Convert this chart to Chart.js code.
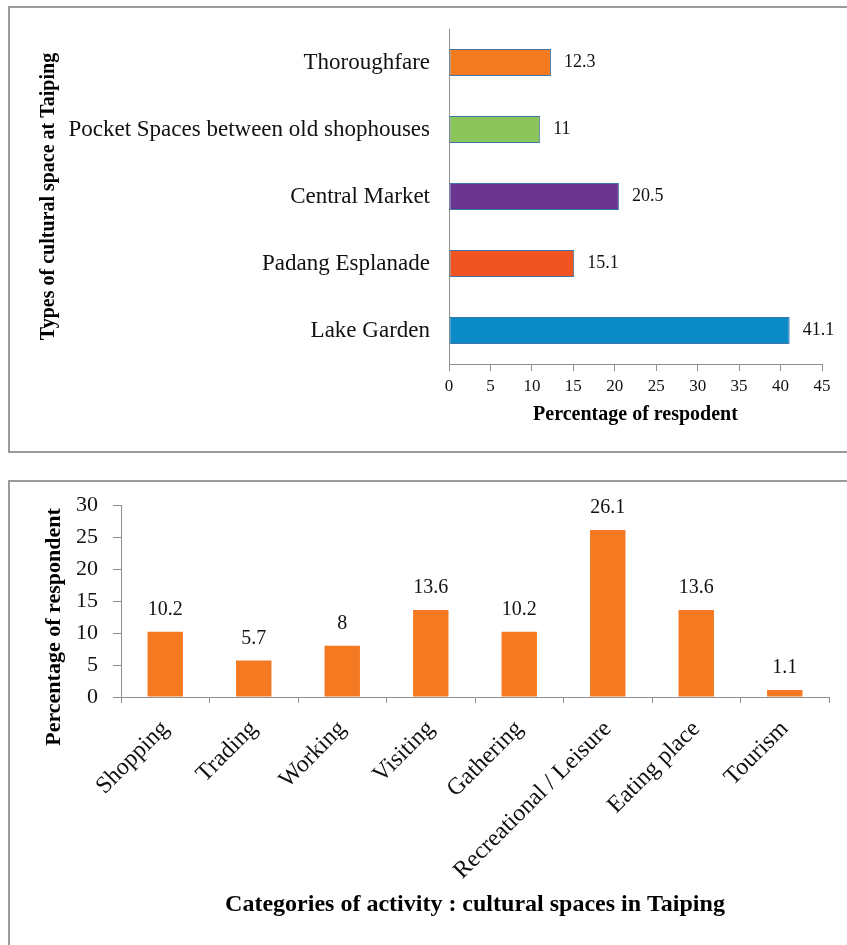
<!DOCTYPE html>
<html>
<head>
<meta charset="utf-8">
<script src="https://cdn.jsdelivr.net/npm/chart.js@4.4.0/dist/chart.umd.min.js"></script>
<style>
    body { margin: 0; background: #fff; width: 847px; height: 945px; overflow: hidden; position: relative; }
    .box { position: absolute; left: 8px; border: 2px solid #9b9b9b; }
    #box1 { top: 6px; width: 880px; height: 443px; }
    #box2 { top: 480px; width: 880px; height: 500px; }
    canvas { position: absolute; left: 0; }
    #chartTop { top: 0; }
    #chartBottom { top: 470px; }
</style>
</head>
<body>
<div class="box" id="box1"></div>
<div class="box" id="box2"></div>
<canvas id="chartTop" width="847" height="460"></canvas>
<canvas id="chartBottom" width="847" height="475"></canvas>
<script>
// Types of cultural space at Taiping
const spaceLabels = ['Thoroughfare', 'Pocket Spaces between old shophouses', 'Central Market', 'Padang Esplanade', 'Lake Garden'];
const spaceValues = [12.3, 11, 20.5, 15.1, 41.1];
const spaceColors = ['#F47A20', '#8CC55A', '#6B3590', '#F05423', '#0A8BC8'];
const spaceTicks = [0, 5, 10, 15, 20, 25, 30, 35, 40, 45];

// Categories of activity
const activityLabels = ['Shopping', 'Trading', 'Working', 'Visiting', 'Gathering', 'Recreational / Leisure', 'Eating place', 'Tourism'];
const activityValues = [10.2, 5.7, 8, 13.6, 10.2, 26.1, 13.6, 1.1];
const activityTicks = [0, 5, 10, 15, 20, 25, 30];

const serif = "'Liberation Serif', 'Times New Roman', serif";
const axisGrey = '#8f8f8f';

// valores escritos ao lado / acima de cada barra
const valueLabels = {
    id: 'valueLabels',
    afterDatasetsDraw(chart, args, opts) {
        const ctx = chart.ctx;
        const meta = chart.getDatasetMeta(0);
        const values = chart.data.datasets[0].data;
        ctx.save();
        ctx.font = opts.font;
        ctx.fillStyle = '#111';
        ctx.textBaseline = 'middle';
        meta.data.forEach((bar, i) => {
            if (chart.options.indexAxis === 'y') {
                ctx.textAlign = 'left';
                ctx.fillText(String(values[i]), bar.x + opts.offset, bar.y);
            } else {
                ctx.textAlign = 'center';
                ctx.fillText(String(values[i]), bar.x, bar.y - opts.offset);
            }
        });
        ctx.restore();
    }
};

// vertical title that is not centred on the axis
const sideTitle = {
    id: 'sideTitle',
    afterDraw(chart, args, opts) {
        if (!opts.text) return;
        const ctx = chart.ctx;
        ctx.save();
        ctx.translate(opts.x, opts.y);
        ctx.rotate(-Math.PI / 2);
        ctx.font = opts.font;
        ctx.fillStyle = '#000';
        ctx.textAlign = 'center';
        ctx.textBaseline = 'middle';
        ctx.fillText(opts.text, 0, 0);
        ctx.restore();
    }
};

new Chart(document.getElementById('chartTop'), {
    type: 'bar',
    data: {
        labels: spaceLabels,
        datasets: [{
            data: spaceValues,
            backgroundColor: spaceColors,
            borderColor: '#3F76A8',
            borderWidth: 1,
            borderSkipped: false,
            barPercentage: 0.8,
            categoryPercentage: 0.5
        }]
    },
    options: {
        indexAxis: 'y',
        responsive: false,
        animation: false,
        layout: { padding: { left: 20, top: 29, right: 25, bottom: 0 } },
        plugins: {
            legend: { display: false },
            tooltip: { enabled: false },
            valueLabels: { font: '18px ' + serif, offset: 13 }
        },
        scales: {
            x: {
                min: spaceTicks[0],
                max: spaceTicks[spaceTicks.length - 1],
                ticks: { stepSize: spaceTicks[1] - spaceTicks[0], color: '#111', font: { family: serif, size: 17 }, padding: 5 },
                grid: { drawOnChartArea: false, tickLength: 7, color: axisGrey },
                border: { color: axisGrey },
                title: {
                    display: true,
                    text: 'Percentage of respodent',
                    color: '#000',
                    font: { family: serif, size: 20, weight: 'bold' },
                    padding: { top: 0, bottom: 33 }
                },
                afterFit(s) { s.height = 96; s.paddingLeft = 0; s.paddingRight = 0; }
            },
            y: {
                grid: { display: false, drawTicks: false },
                border: { color: axisGrey },
                ticks: { color: '#111', font: { family: serif, size: 23 }, padding: 19 },
                title: {
                    display: true,
                    text: 'Types of cultural space at Taiping',
                    color: '#000',
                    font: { family: serif, size: 20, weight: 'bold' },
                    padding: { top: 17, bottom: 0 }
                },
                afterFit(s) { s.width = 429; s.paddingTop = 0; s.paddingBottom = 0; }
            }
        }
    },
    plugins: [valueLabels]
});

new Chart(document.getElementById('chartBottom'), {
    type: 'bar',
    data: {
        labels: activityLabels,
        datasets: [{
            data: activityValues,
            backgroundColor: '#F47920',
            borderWidth: 0,
            barPercentage: 0.8,
            categoryPercentage: 0.5
        }]
    },
    options: {
        responsive: false,
        animation: false,
        layout: { padding: { left: 20, top: 35, right: 18, bottom: 0 } },
        plugins: {
            legend: { display: false },
            tooltip: { enabled: false },
            valueLabels: { font: '20px ' + serif, offset: 22 },
            sideTitle: { text: 'Percentage of respondent', font: 'bold 22px ' + serif, x: 54, y: 157 }
        },
        scales: {
            x: {
                grid: { drawOnChartArea: false, tickLength: 6, color: axisGrey },
                border: { color: axisGrey },
                ticks: { color: '#111', font: { family: serif, size: 24 }, maxRotation: 45, minRotation: 45, autoSkip: false, padding: 12 },
                title: {
                    display: true,
                    text: 'Categories of activity : cultural spaces in Taiping',
                    color: '#000',
                    font: { family: serif, size: 24, weight: 'bold' },
                    padding: { top: 0, bottom: 26 }
                },
                afterFit(s) { s.height = 248; s.paddingLeft = 0; s.paddingRight = 0; }
            },
            y: {
                min: activityTicks[0],
                max: activityTicks[activityTicks.length - 1],
                ticks: { stepSize: activityTicks[1] - activityTicks[0], color: '#111', font: { family: serif, size: 22 }, padding: 15 },
                grid: { drawOnChartArea: false, tickLength: 8, color: axisGrey },
                border: { color: axisGrey },
                afterFit(s) { s.width = 101; s.paddingTop = 0; s.paddingBottom = 0; }
            }
        }
    },
    plugins: [valueLabels, sideTitle]
});
</script>
</body>
</html>
